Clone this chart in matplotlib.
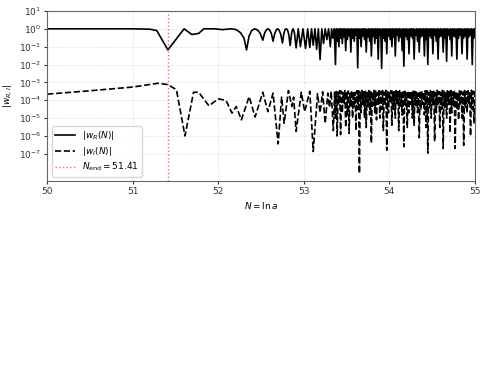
import numpy as np
import matplotlib
matplotlib.use("Agg")
import matplotlib.pyplot as plt
from matplotlib.ticker import NullLocator

# |w_R| : coarse early part
n_r = [50.0, 51.0, 51.2, 51.28, 51.41, 51.6, 51.69, 51.77, 51.83, 51.95,
       52.05, 52.15, 52.21, 52.26, 52.3, 52.33, 52.36, 52.39, 52.425, 52.46,
       52.49, 52.52, 52.54, 52.56, 52.58, 52.6, 52.62, 52.64, 52.66, 52.68,
       52.695, 52.71, 52.73, 52.75, 52.765, 52.78, 52.795, 52.81, 52.825, 52.84,
       52.86, 52.875, 52.89, 52.91, 52.935, 52.96, 52.99, 53.02, 53.045, 53.07,
       53.09, 53.11, 53.13, 53.15, 53.17, 53.19, 53.21, 53.23, 53.25, 53.27,
       53.29, 53.31, 53.325, 53.34, 53.355, 53.37]
w_r = [1.0, 1.0, 0.95, 0.8, 0.066, 1.0, 0.48, 0.55, 1.0, 1.0,
       0.9, 1.0, 0.9, 0.6, 0.3, 0.066, 0.4, 0.8, 1.0, 0.85,
       0.55, 0.23, 0.55, 0.85, 1.0, 0.85, 0.55, 0.2, 0.55, 0.9,
       1.0, 0.85, 0.5, 0.16, 0.5, 0.9, 1.0, 0.85, 0.45, 0.115,
       0.7, 1.0, 0.6, 0.085, 1.0, 0.1, 1.0, 0.08, 1.0, 0.09,
       1.0, 0.12, 1.0, 0.07, 1.0, 0.019, 1.0, 0.15, 1.0, 0.25,
       1.0, 0.1, 1.0, 0.3, 1.0, 0.01]

# |w_I| : coarse early part
n_i = [50.0, 50.5, 51.0, 51.3, 51.41, 51.51, 51.61, 51.71, 51.77, 51.89,
       52.0, 52.09, 52.16, 52.21, 52.27, 52.36, 52.43, 52.52, 52.58, 52.64,
       52.70, 52.74, 52.77, 52.82, 52.86, 52.88, 52.91, 52.97, 53.01, 53.07,
       53.11, 53.16, 53.19, 53.22, 53.25, 53.28, 53.30, 53.32, 53.345, 53.36,
       53.37]
w_i = [2.2e-4, 3.4e-4, 5.5e-4, 9e-4, 7.5e-4, 3.9e-4, 1e-6, 2.8e-4, 2.8e-4, 4.9e-5,
       1.2e-4, 9.8e-5, 1.9e-5, 4.5e-5, 8e-6, 1.6e-4, 1.15e-5, 2.8e-4, 2.3e-5, 2.5e-4,
       3.6e-7, 1.5e-4, 5.2e-6, 3.5e-4, 4.5e-5, 1.5e-4, 1.8e-6, 2.8e-4, 2.3e-5, 3.2e-4,
       1.35e-7, 2.3e-4, 2e-5, 3e-4, 5e-6, 2.5e-4, 4e-5, 3.2e-4, 2e-6, 2.8e-4,
       1e-5]

# fast oscillating part, sampled every 0.01 from 53.38 to 55.00
# peaks sit on even samples (82), troughs on odd samples (81)
n_dense = np.round(np.arange(53.38, 55.0001, 0.01), 2)

wr_peaks = [1.0, 0.98, 1.0,
            1.0, 0.99, 1.0, 0.96, 1.0, 0.98, 1.0, 0.97, 1.0, 0.99,
            1.0, 0.97, 1.0, 0.99, 1.0, 0.96, 1.0, 0.98, 1.0, 0.97,
            1.0, 0.99, 1.0, 0.96, 1.0, 0.98, 1.0, 0.97, 1.0, 0.99,
            1.0, 0.97, 1.0, 0.99, 1.0, 0.96, 1.0, 0.98, 1.0, 0.97,
            1.0, 0.99, 1.0, 0.96, 1.0, 0.98, 1.0, 0.97, 1.0, 0.99,
            1.0, 0.97, 1.0, 0.99, 1.0, 0.96, 1.0, 0.98, 1.0, 0.97,
            1.0, 0.99, 1.0, 0.96, 1.0, 0.98, 1.0, 0.97, 1.0, 0.99,
            1.0, 0.97, 1.0, 0.99, 1.0, 0.96, 1.0, 0.98, 1.0]
wr_troughs = [0.2, 0.1, 0.3,
              0.15, 0.35, 0.06, 0.25, 0.4, 0.05, 0.3, 0.2, 0.45, 0.0065,
              0.3, 0.1, 0.4, 0.25, 0.05, 0.35, 0.2, 0.03, 0.4, 0.15,
              0.3, 0.02, 0.45, 0.006, 0.3, 0.2, 0.04, 0.4, 0.25, 0.1,
              0.35, 0.03, 0.45, 0.2, 0.35, 0.06, 0.008, 0.4, 0.25, 0.04,
              0.4, 0.3, 0.02, 0.45, 0.2, 0.05, 0.35, 0.4, 0.03, 0.25,
              0.01, 0.4, 0.3, 0.04, 0.45, 0.2, 0.02, 0.35, 0.4, 0.05,
              0.3, 0.015, 0.45, 0.25, 0.03, 0.4, 0.35, 0.02, 0.3, 0.45,
              0.04, 0.3, 0.4, 0.02, 0.35, 0.45, 0.01, 0.3]

wi_peaks = [3.1e-4, 2.9e-4, 3.5e-4, 3.2e-4, 2.7e-4,
            3.5e-4, 3.1e-4, 3.3e-4, 2.5e-4, 3.6e-4, 3.0e-4, 2.8e-4, 3.4e-4,
            3.4e-4, 2.9e-4, 3.6e-4, 3.0e-4, 3.2e-4, 2.7e-4, 3.5e-4, 3.1e-4, 2.9e-4, 3.6e-4,
            3.3e-4, 2.6e-4, 3.4e-4, 3.1e-4, 3.5e-4, 2.8e-4, 3.6e-4, 3.0e-4, 2.7e-4, 3.4e-4,
            3.2e-4, 2.9e-4, 3.5e-4, 3.0e-4, 3.4e-4, 2.6e-4, 3.6e-4, 3.2e-4, 2.8e-4, 3.5e-4,
            3.3e-4, 2.7e-4, 3.6e-4, 3.1e-4, 3.3e-4, 2.5e-4, 3.5e-4, 3.0e-4, 2.9e-4, 3.4e-4,
            3.4e-4, 2.8e-4, 3.5e-4, 3.0e-4, 3.2e-4, 2.7e-4, 3.6e-4, 3.1e-4, 2.8e-4, 3.6e-4,
            3.3e-4, 2.6e-4, 3.4e-4, 3.1e-4, 3.5e-4, 2.9e-4, 3.6e-4, 3.0e-4, 2.7e-4, 3.4e-4,
            3.2e-4, 2.9e-4, 3.5e-4, 3.0e-4, 3.4e-4, 2.6e-4, 3.6e-4, 3.2e-4, 3.3e-4]
wi_troughs = [1e-6, 6e-5, 1.2e-6,
              2e-5, 7e-5, 3e-6, 1.5e-5, 1.4e-6, 5e-5, 1e-5, 4e-5, 2e-6, 3e-5,
              8e-9, 2e-5, 6e-5, 1e-5, 3e-6, 4e-5, 1.5e-5, 4e-7, 5e-5, 2e-5,
              8e-6, 6e-5, 1e-5, 3e-5, 2e-6, 5e-5, 1.6e-7, 2e-5, 7e-5, 4e-6,
              3e-5, 1e-5, 6e-5, 2e-6, 4e-5, 1.5e-5, 2.5e-7, 5e-5, 3e-6, 2e-5,
              6e-5, 1e-5, 4e-6, 5e-5, 2e-5, 8e-7, 3e-5, 6e-5, 1.5e-5, 3e-6,
              1.1e-7, 4e-5, 1e-5, 6e-5, 5e-7, 2e-5, 5e-5, 3e-6, 3e-5, 2e-7,
              4e-5, 1e-5, 6e-5, 1.5e-6, 2e-5, 5e-5, 2e-7, 3e-5, 8e-6, 5e-5,
              1e-5, 3e-7, 4e-5, 2e-5, 6e-5, 1e-6, 3e-5, 5e-6]

N_end = 51.41


def interleave(peaks, troughs):
    out = np.empty(len(peaks) + len(troughs))
    out[0::2] = peaks
    out[1::2] = troughs
    return out


NR = np.concatenate([n_r, n_dense])
WR = np.concatenate([w_r, interleave(wr_peaks, wr_troughs)])
NI = np.concatenate([n_i, n_dense])
WI = np.concatenate([w_i, interleave(wi_peaks, wi_troughs)])

plt.rcParams['font.size'] = 6.5
fig = plt.figure(figsize=(4.88, 3.91), dpi=100)
ax = fig.add_axes([0.097, 0.537, 0.876, 0.435])

ax.plot(NR, WR, color='k', linestyle='-', linewidth=1.2, label=r'$|w_R(N)|$')
ax.plot(NI, WI, color='k', linestyle='--', linewidth=1.2, label=r'$|w_I(N)|$')
ax.axvline(N_end, color='red', linestyle=':', linewidth=1.0, alpha=0.6,
           label=r'$N_{\rm end} = %.2f$' % N_end)

ax.set_yscale('log')
ax.set_xlim(50, 55)
ax.set_ylim(3e-9, 10)
ax.set_yticks([1e-7, 1e-6, 1e-5, 1e-4, 1e-3, 1e-2, 1e-1, 1e0, 1e1])
ax.yaxis.set_minor_locator(NullLocator())
ax.set_xticks([50, 51, 52, 53, 54, 55])
ax.grid(True, linestyle='--', linewidth=0.6, alpha=0.3)
for s in ax.spines.values():
    s.set_color('0.4')
ax.tick_params(colors='0.2', length=2.5, pad=2)

ax.set_xlabel(r'$N = \ln a$', labelpad=3)
ax.set_ylabel(r'$|w_{R,I}|$', labelpad=3)
ax.legend(loc='lower left', fontsize=6.5, labelspacing=0.3, borderpad=0.35,
          handlelength=2.2)

fig.savefig('out.png', dpi=100)
